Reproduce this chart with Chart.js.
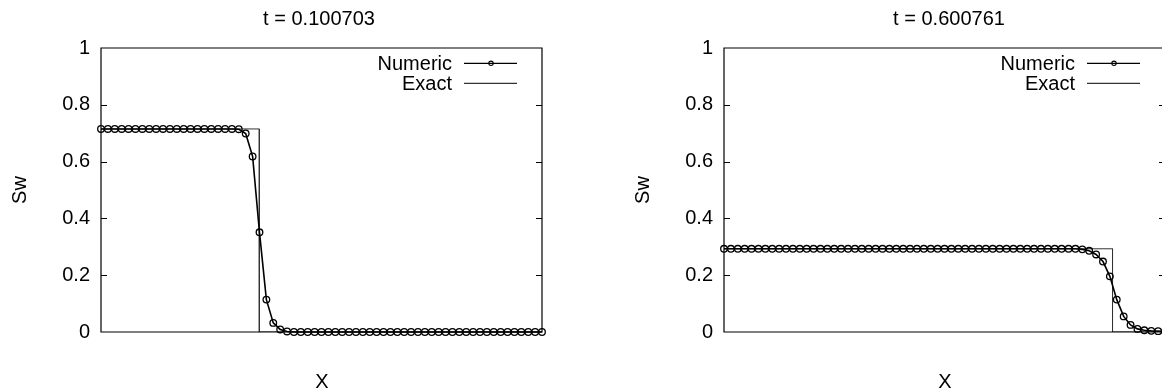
<!DOCTYPE html>
<html><head><meta charset="utf-8">
<script src="https://cdn.jsdelivr.net/npm/chart.js@4.4.1/dist/chart.umd.min.js"></script>
<style>
html,body{margin:0;padding:0;background:#fff;overflow:hidden;width:1162px;height:392px;}
.wrap{position:absolute;top:0;width:581px;height:392px;}
canvas{display:block;}
</style></head><body>
<div class="wrap" style="left:0px"><canvas id="c1" width="581" height="392"></canvas></div>
<div class="wrap" style="left:623px"><canvas id="c2" width="581" height="392"></canvas></div>
<script>
// ---- data ----
const xGrid = [0, 0.0156, 0.0313, 0.0469, 0.0625, 0.0781, 0.0938, 0.1094, 0.125, 0.1406,
  0.1563, 0.1719, 0.1875, 0.2031, 0.2188, 0.2344, 0.25, 0.2656, 0.2813, 0.2969,
  0.3125, 0.3281, 0.3438, 0.3594, 0.375, 0.3906, 0.4063, 0.4219, 0.4375, 0.4531,
  0.4688, 0.4844, 0.5, 0.5156, 0.5313, 0.5469, 0.5625, 0.5781, 0.5938, 0.6094,
  0.625, 0.6406, 0.6563, 0.6719, 0.6875, 0.7031, 0.7188, 0.7344, 0.75, 0.7656,
  0.7813, 0.7969, 0.8125, 0.8281, 0.8438, 0.8594, 0.875, 0.8906, 0.9063, 0.9219,
  0.9375, 0.9531, 0.9688, 0.9844, 1];
const numericEarly = [0.715, 0.715, 0.715, 0.715, 0.715, 0.715, 0.715, 0.715, 0.715, 0.715,
  0.715, 0.715, 0.715, 0.715, 0.715, 0.715, 0.715, 0.715, 0.715, 0.715,
  0.714, 0.699, 0.618, 0.351, 0.114, 0.032, 0.009, 0.002, 0, 0,
  0, 0, 0, 0, 0, 0, 0, 0, 0, 0,
  0, 0, 0, 0, 0, 0, 0, 0, 0, 0,
  0, 0, 0, 0, 0, 0, 0, 0, 0, 0,
  0, 0, 0, 0, 0];
const numericLate = [0.293, 0.293, 0.293, 0.293, 0.293, 0.293, 0.293, 0.293, 0.293, 0.293,
  0.293, 0.293, 0.293, 0.293, 0.293, 0.293, 0.293, 0.293, 0.293, 0.293,
  0.293, 0.293, 0.293, 0.293, 0.293, 0.293, 0.293, 0.293, 0.293, 0.293,
  0.293, 0.293, 0.293, 0.293, 0.293, 0.293, 0.293, 0.293, 0.293, 0.293,
  0.293, 0.293, 0.293, 0.293, 0.293, 0.293, 0.293, 0.293, 0.293, 0.293,
  0.293, 0.293, 0.291, 0.286, 0.273, 0.248, 0.196, 0.114, 0.055, 0.025,
  0.011, 0.006, 0.004, 0.003, 0.002];
const exactEarlyX = [0, 0.359, 0.359, 1];
const exactEarlyY = [0.715, 0.715, 0, 0];
const exactLateX = [0, 0.881, 0.881, 1];
const exactLateY = [0.293, 0.293, 0, 0];
const yTickValues = [0, 0.2, 0.4, 0.6, 0.8, 1];
const yTickLabels = ['0', '0.2', '0.4', '0.6', '0.8', '1'];
const titles = ['t = 0.100703', 't = 0.600761'];
const seriesNames = ['Numeric', 'Exact'];
const xTitle = 'X';
const yTitle = 'Sw';

// ---- drawing ----
const FONT = '20px "Liberation Sans", Arial, sans-serif';

function pairs(xs, ys) { return xs.map((x, i) => ({x: x, y: ys[i]})); }

const frame = {
  id: 'frame',
  afterDraw(chart, args, opts) {
    const ctx = chart.ctx;
    const a = chart.chartArea;
    const ys = chart.scales.y;
    ctx.save();
    // box
    ctx.strokeStyle = '#000';
    ctx.lineWidth = 1.2;
    ctx.beginPath();
    ctx.rect(a.left, a.top, a.right - a.left, a.bottom - a.top);
    ctx.stroke();
    // inward ticks
    ctx.lineWidth = 1;
    yTickValues.forEach(v => {
      if (v === 0 || v === 1) return;
      const py = Math.round(ys.getPixelForValue(v)) + 0.5;
      ctx.beginPath();
      ctx.moveTo(a.left, py); ctx.lineTo(a.left + 6, py);
      ctx.moveTo(a.right, py); ctx.lineTo(a.right - 6, py);
      ctx.stroke();
    });
    // texts
    ctx.fillStyle = '#000';
    ctx.font = FONT;
    ctx.textAlign = 'center';
    ctx.textBaseline = 'alphabetic';
    ctx.fillText(opts.title, opts.titleX, 25);
    ctx.fillText(xTitle, opts.xTitleX, 388);
    ctx.save();
    ctx.translate(26, (a.top + a.bottom) / 2);
    ctx.rotate(-Math.PI / 2);
    ctx.fillText(yTitle, 0, 0);
    ctx.restore();
    // legend (gnuplot style key)
    const ds = chart.data.datasets;
    const rows = [63.3, 83.3];
    ds.forEach((d, i) => {
      const yy = rows[i];
      ctx.textAlign = 'right';
      ctx.fillText(d.label, a.right - 90, yy + 6.5);
      ctx.strokeStyle = d.borderColor;
      ctx.lineWidth = 1.2;
      ctx.beginPath();
      ctx.moveTo(a.right - 78, yy); ctx.lineTo(a.right - 25, yy);
      ctx.stroke();
      if (d.pointRadius > 0) {
        ctx.lineWidth = 1.1;
        ctx.strokeStyle = '#000';
        ctx.beginPath();
        ctx.arc(a.right - 51, yy, 2.2, 0, Math.PI * 2);
        ctx.stroke();
      }
    });
    ctx.restore();
  }
};

function makeChart(id, numeric, exX, exY, title, titleX) {
  return new Chart(document.getElementById(id), {
    type: 'line',
    data: {
      datasets: [
        {
          label: seriesNames[0],
          data: pairs(xGrid, numeric),
          borderColor: '#000',
          borderWidth: 1.6,
          pointRadius: 3.3,
          pointBorderWidth: 1.3,
          pointBorderColor: '#000',
          pointBackgroundColor: 'rgba(0,0,0,0)',
          tension: 0,
          clip: false,
          order: 0
        },
        {
          label: seriesNames[1],
          data: pairs(exX, exY),
          borderColor: '#333',
          borderWidth: 1,
          pointRadius: 0,
          tension: 0,
          order: 1
        }
      ]
    },
    options: {
      responsive: false,
      animation: false,
      devicePixelRatio: 1,
      events: [],
      layout: {padding: {left: 0, right: 39, top: 48, bottom: 60}},
      plugins: {
        legend: {display: false},
        title: {display: false},
        tooltip: {enabled: false},
        frame: {title: title, titleX: titleX, xTitleX: 322}
      },
      scales: {
        x: {type: 'linear', min: 0, max: 1, display: false},
        y: {
          type: 'linear', min: 0, max: 1,
          afterFit(s) { s.width = 101; },
          afterBuildTicks(s) { s.ticks = yTickValues.map(v => ({value: v})); },
          grid: {display: false, drawTicks: false},
          border: {display: false},
          ticks: {
            padding: 11,
            color: '#000',
            font: {family: '"Liberation Sans", Arial, sans-serif', size: 20},
            callback(v, i) { return yTickLabels[yTickValues.indexOf(v)]; }
          }
        }
      }
    },
    plugins: [frame]
  });
}

makeChart('c1', numericEarly, exactEarlyX, exactEarlyY, titles[0], 319);
makeChart('c2', numericLate, exactLateX, exactLateY, titles[1], 326);
</script>
</body></html>
